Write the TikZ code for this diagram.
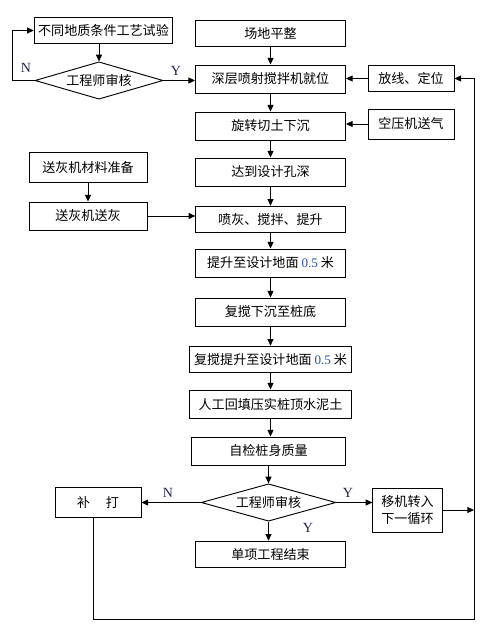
\documentclass[tikz,border=0pt]{standalone}
\usepackage{fontspec}
\newfontfamily\cjkfont{Noto Sans CJK SC}
\newfontfamily\latfont{Liberation Serif}
\usetikzlibrary{arrows.meta,shapes.geometric,positioning}
\definecolor{labNavy}{RGB}{35,35,75}
\definecolor{numBlue}{RGB}{40,80,170}
\newcommand{\halfm}{{\latfont\color{numBlue}0.5}}

\begin{document}
\begin{tikzpicture}[x=0.75pt,y=-0.75pt,
  proc/.style={rectangle,draw,line width=0.7pt,minimum height=21pt,inner sep=1pt,
               align=center,font=\cjkfont\fontsize{9.8}{13}\selectfont},
  decide/.style={diamond,draw,line width=0.7pt,shape aspect=3.5,inner sep=0pt,
                 align=center,font=\cjkfont\fontsize{9.8}{13}\selectfont},
  lab/.style={inner sep=0pt,text=labNavy,font=\latfont\fontsize{10.5}{12}\selectfont},
  fl/.style={-{Triangle[length=5pt,width=4.5pt]},line width=0.7pt},
  ln/.style={line width=0.7pt}
]
  \useasboundingbox (0,0) rectangle (480,628);
  % main column
  \node[proc,minimum width=112.5pt,minimum height=19pt](level)  at (270.5,33.5) {场地平整};
  \node[proc,minimum width=112.5pt](setup)   at (270.5,79)    {深层喷射搅拌机就位};
  \node[proc,minimum width=112.5pt](sink)    at (270.5,126)   {旋转切土下沉};
  \node[proc,minimum width=112pt](depth)     at (270.5,172)   {达到设计孔深};
  \node[proc,minimum width=112pt,minimum height=20pt](spray) at (270.5,219.5) {喷灰、搅拌、提升};
  \node[proc,minimum width=112pt](lift)      at (270.5,263)   {提升至设计地面 \halfm\ 米};
  \node[proc,minimum width=112pt](resink)    at (270.5,312)   {复搅下沉至桩底};
  \node[proc,minimum width=121.5pt,minimum height=20pt](relift) at (270.5,359.5) {复搅提升至设计地面 \halfm\ 米};
  \node[proc,minimum width=121.5pt](backfill) at (270.5,404) {人工回填压实桩顶水泥土};
  \node[proc,minimum width=115.5pt](selfchk) at (268.5,451)  {自检桩身质量};
  \node[decide,minimum width=101pt,minimum height=28pt](audit2) at (268.5,502.5) {工程师审核};
  \node[proc,minimum width=112.5pt,minimum height=20pt](finish) at (270.5,554.5) {单项工程结束};
  % left side
  \node[proc,minimum width=104pt,minimum height=19pt](trial) at (103.5,30.5) {不同地质条件工艺试验};
  \node[decide,minimum width=96pt,minimum height=28pt](audit1) at (99,80.5) {工程师审核};
  \node[proc,minimum width=88.5pt,minimum height=22pt](ashprep) at (88,167.5) {送灰机材料准备};
  \node[proc,minimum width=88.5pt](ashfeed) at (88,216) {送灰机送灰};
  \node[proc,minimum width=64.5pt,minimum height=22pt](repile) at (98,502.5) {补\hspace{1.2em}打};
  % right side
  \node[proc,minimum width=64.5pt,minimum height=20pt](stake) at (411,78.5) {放线、定位};
  \node[proc,minimum width=64.5pt,minimum height=22.5pt](air) at (411,124) {空压机送气};
  \node[proc,minimum width=52pt,minimum height=33pt](move) at (407.5,510) {移机转入\\下一循环};
  % loop corners
  \coordinate (cornerL)  at (12,80.5);
  \coordinate (loopBL)   at (93,619);
  \coordinate (loopBR)   at (474,619);
  % labels
  \node[lab](n1) at (26,68)   {N};
  \node[lab](y1) at (176,71)  {Y};
  \node[lab](n2) at (168,493) {N};
  \node[lab](y2) at (348,493) {Y};
  \node[lab](y3) at (308,528) {Y};
  % main flow
  \draw[fl](level)--(setup);
  \draw[fl](setup)--(sink);
  \draw[fl](sink)--(depth);
  \draw[fl](depth)--(spray);
  \draw[fl](spray)--(lift);
  \draw[fl](lift)--(resink);
  \draw[fl](resink)--(relift);
  \draw[fl](relift)--(backfill);
  \draw[fl](backfill.south)--(backfill.south |- selfchk.north);
  \draw[fl](selfchk)--(audit2);
  \draw[fl](audit2.south)--(audit2.south |- finish.north);
  % side inputs
  \draw[fl](trial.south -| audit1.north)--(audit1.north);
  \draw[fl](audit1.east)--(audit1.east -| setup.west);
  \draw[fl](audit1.west)--(cornerL)|-(trial.west);
  \draw[fl](stake.west)--(stake.west -| setup.east);
  \draw[fl](air.west)--(air.west -| sink.east);
  \draw[fl](ashprep)--(ashfeed);
  \draw[fl](ashfeed.east)--(ashfeed.east -| spray.west);
  % review outcome
  \draw[fl](audit2.west)--(audit2.west -| repile.east);
  \draw[fl](audit2.east)--(audit2.east -| move.west);
  \draw[fl](move.east)--(move.east -| loopBR);
  \draw[fl](repile.south -| loopBL)--(loopBL)--(loopBR)|-(stake.east);
\end{tikzpicture}
\end{document}
